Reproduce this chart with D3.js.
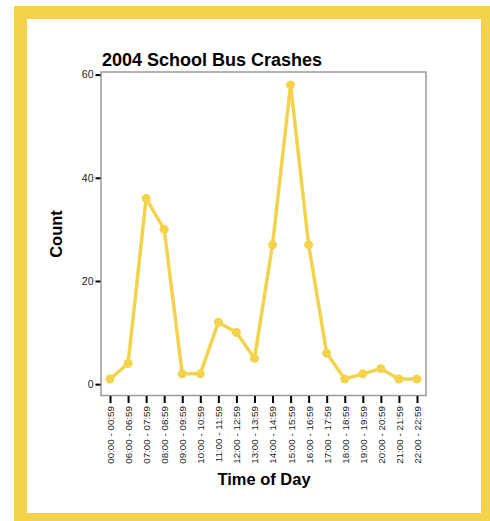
<!DOCTYPE html>
<html>
<head>
<meta charset="utf-8">
<script src="https://cdn.jsdelivr.net/npm/d3@7"></script>
<style>
  body { margin: 0; background: #fff; }
  svg { display: block; font-family: "Liberation Sans", Arial, sans-serif; }
</style>
</head>
<body>
<svg width="490" height="521"></svg>
<script>
var times = ["00:00 - 00:59", "06:00 - 06:59", "07:00 - 07:59", "08:00 - 08:59", "09:00 - 09:59",
             "10:00 - 10:59", "11:00 - 11:59", "12:00 - 12:59", "13:00 - 13:59", "14:00 - 14:59",
             "15:00 - 15:59", "16:00 - 16:59", "17:00 - 17:59", "18:00 - 18:59", "19:00 - 19:59",
             "20:00 - 20:59", "21:00 - 21:59", "22:00 - 22:59"];
var counts = [1, 4, 36, 30, 2, 2, 12, 10, 5, 27, 58, 27, 6, 1, 2, 3, 1, 1];
var yTicks = [0, 20, 40, 60];

var svg = d3.select("svg"),
    margin = {top: 72, left: 101, right: 426, bottom: 395.5},
    gold = "#f2d34b";

// yellow frame
svg.append("rect")
    .attr("x", 20.5).attr("y", 12.5)
    .attr("width", 467).attr("height", 507)
    .attr("fill", "none")
    .attr("stroke", gold)
    .attr("stroke-width", 13);

var x = d3.scalePoint().domain(times).range([margin.left, margin.right]).padding(0.5),
    y = d3.scaleLinear().domain([-2.2, 60.5]).range([margin.bottom, margin.top]);

// plot frame
svg.append("rect")
    .attr("x", margin.left).attr("y", margin.top)
    .attr("width", margin.right - margin.left)
    .attr("height", margin.bottom - margin.top)
    .attr("fill", "none")
    .attr("stroke", "#9a9a9a")
    .attr("stroke-width", 1.5);

var yAxis = svg.append("g")
    .attr("transform", "translate(" + (margin.left - 0.5) + ",0)")
    .call(d3.axisLeft(y).tickValues(yTicks).tickSize(5).tickPadding(2));
yAxis.select(".domain").remove();
yAxis.selectAll(".tick line").attr("stroke", "#000").attr("stroke-width", 2);
yAxis.selectAll(".tick text").attr("fill", "#222").style("font-size", "10.5px")
    .style("font-family", "Liberation Sans, Arial, sans-serif");

var xAxis = svg.append("g")
    .attr("transform", "translate(0," + (margin.bottom + 0.5) + ")")
    .call(d3.axisBottom(x).tickSize(7).tickPadding(3));
xAxis.select(".domain").remove();
xAxis.selectAll(".tick line").attr("stroke", "#000").attr("stroke-width", 2);
xAxis.selectAll(".tick text")
    .attr("fill", "#222")
    .style("font-size", "9.8px")
    .style("font-family", "Liberation Sans, Arial, sans-serif")
    .attr("transform", "rotate(-90)")
    .attr("text-anchor", "end")
    .attr("x", -10)
    .attr("y", 0)
    .attr("dy", "0.35em");

var line = d3.line()
    .x(function(d, i) { return x(times[i]); })
    .y(function(d) { return y(d); });

svg.append("path")
    .datum(counts)
    .attr("fill", "none")
    .attr("stroke", gold)
    .attr("stroke-width", 3.5)
    .attr("stroke-linejoin", "round")
    .attr("d", line);

svg.selectAll(".dot")
    .data(counts)
    .enter().append("circle")
    .attr("class", "dot")
    .attr("cx", function(d, i) { return x(times[i]); })
    .attr("cy", function(d) { return y(d); })
    .attr("r", 4.5)
    .attr("fill", gold);

svg.append("text")
    .attr("x", 102).attr("y", 66)
    .style("font-size", "18px").style("font-weight", "bold")
    .text("2004 School Bus Crashes");

svg.append("text")
    .attr("transform", "translate(62,234) rotate(-90)")
    .attr("text-anchor", "middle")
    .style("font-size", "16.5px").style("font-weight", "bold")
    .text("Count");

svg.append("text")
    .attr("x", 264).attr("y", 485)
    .attr("text-anchor", "middle")
    .style("font-size", "16.5px").style("font-weight", "bold")
    .text("Time of Day");
</script>
</body>
</html>
